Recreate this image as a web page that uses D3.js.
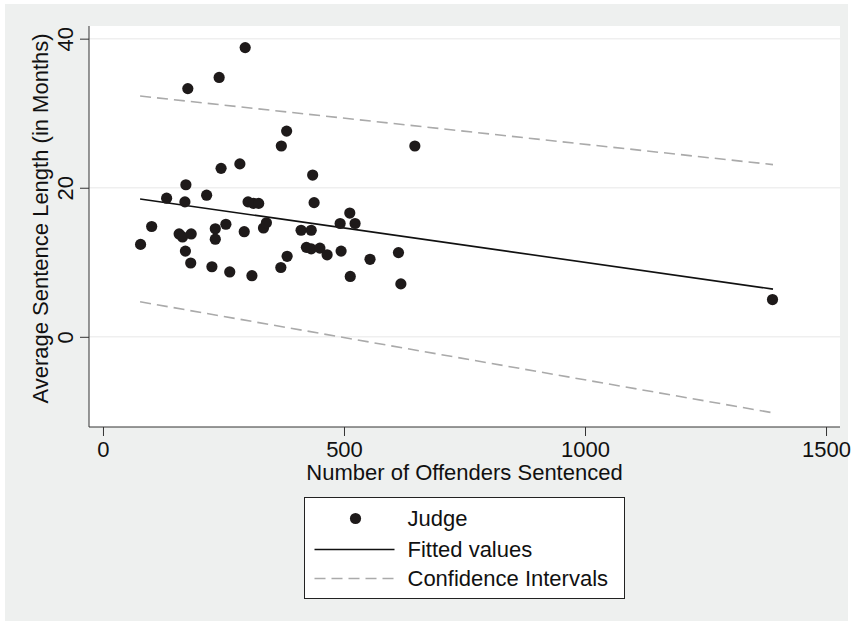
<!DOCTYPE html>
<html lang="en">
<head>
  <meta charset="UTF-8">
  <title>Average Sentence Length by Judge</title>
  <script src="https://d3js.org/d3.v7.min.js"></script>
  <style>
    body {
      margin: 0;
      background-color: #ffffff;
      font-family: "Liberation Sans", Arial, sans-serif;
    }
    .axis path, .axis line {
      stroke: #333;
      stroke-width: 1;
    }
    .axis text {
      font-family: "Liberation Sans", Arial, sans-serif;
      font-size: 22px;
      fill: #111;
    }
  </style>
</head>
<body>
  <div id="chart"></div>

  <script>
    // Number of offenders sentenced per judge (x) and average sentence length in months (y)
    const offenders = [
      78, 101, 132, 172, 170, 158, 165, 183, 171, 182,
      215, 245, 284, 233, 233, 255, 226, 263, 293, 309,
      301, 312, 323, 333, 339, 370, 381, 435, 438, 411,
      432, 422, 432, 450, 465, 382, 369, 492, 512, 523,
      494, 513, 554, 613, 618, 647, 295, 241, 176, 1389
    ];
    const sentenceMonths = [
      12.4, 14.8, 18.6, 20.4, 18.1, 13.8, 13.4, 13.8, 11.5, 9.9,
      19.0, 22.6, 23.2, 14.5, 13.1, 15.1, 9.4, 8.7, 14.1, 8.2,
      18.1, 17.9, 17.9, 14.6, 15.3, 25.6, 27.6, 21.7, 18.0, 14.3,
      14.3, 12.0, 11.8, 11.9, 11.0, 10.8, 9.3, 15.2, 16.6, 15.2,
      11.5, 8.1, 10.4, 11.3, 7.1, 25.6, 38.8, 34.8, 33.3, 5.0
    ];

    // Fitted line and confidence interval end points
    const fitX = [77, 1390];
    const fitted = [18.5, 6.4];
    const ciUpper = [32.3, 23.1];
    const ciLower = [4.7, -10.2];

    const xTicks = [0, 500, 1000, 1500];
    const yTicks = [0, 20, 40];

    const legendLabels = ['Judge', 'Fitted values', 'Confidence Intervals'];

    const W = 853, H = 625;
    const plot = { left: 89, right: 840, top: 26, bottom: 427 };

    const svg = d3.select('#chart')
      .append('svg')
      .attr('width', W)
      .attr('height', H);

    // grey graph region
    svg.append('rect')
      .attr('x', 5).attr('y', 4)
      .attr('width', 843).attr('height', 617)
      .attr('fill', '#eef0ef');

    // white plot region
    svg.append('rect')
      .attr('x', plot.left).attr('y', plot.top)
      .attr('width', plot.right - plot.left)
      .attr('height', plot.bottom - plot.top)
      .attr('fill', '#ffffff');

    const xScale = d3.scaleLinear()
      .domain([-29, 1529])
      .range([plot.left, plot.right]);

    const yScale = d3.scaleLinear()
      .domain([-12.1, 41.7])
      .range([plot.bottom, plot.top]);

    // horizontal grid lines
    svg.append('g')
      .selectAll('line')
      .data(yTicks)
      .join('line')
      .attr('x1', plot.left)
      .attr('x2', plot.right)
      .attr('y1', d => yScale(d))
      .attr('y2', d => yScale(d))
      .attr('stroke', '#efefef')
      .attr('stroke-width', 1.5);

    // axes
    const xAxis = d3.axisBottom(xScale)
      .tickValues(xTicks)
      .tickSize(9)
      .tickPadding(5)
      .tickSizeOuter(0)
      .tickFormat(d3.format('d'));

    const gx = svg.append('g')
      .attr('class', 'axis')
      .attr('transform', `translate(0, ${plot.bottom})`)
      .call(xAxis);
    gx.select('.domain').attr('d', `M${plot.left},0H${plot.right}`);

    const yAxis = d3.axisLeft(yScale)
      .tickValues(yTicks)
      .tickSize(9)
      .tickSizeOuter(0)
      .tickFormat(d3.format('d'));

    const gy = svg.append('g')
      .attr('class', 'axis')
      .attr('transform', `translate(${plot.left}, 0)`)
      .call(yAxis);
    gy.select('.domain').attr('d', `M0,${plot.top}V${plot.bottom}`);
    gy.selectAll('.tick text')
      .attr('x', 0)
      .attr('dy', 0)
      .attr('text-anchor', 'middle')
      .attr('transform', 'translate(-16, 0) rotate(-90)');

    // axis titles
    svg.append('text')
      .attr('x', (xScale(0) + xScale(1500)) / 2)
      .attr('y', 480)
      .attr('text-anchor', 'middle')
      .style('font-size', '22px')
      .attr('fill', '#111')
      .text('Number of Offenders Sentenced');

    svg.append('text')
      .attr('text-anchor', 'middle')
      .attr('transform', `translate(48, ${(plot.top + plot.bottom) / 2 - 8}) rotate(-90)`)
      .style('font-size', '22px')
      .attr('fill', '#111')
      .text('Average Sentence Length (in Months)');

    // confidence intervals
    const line = d3.line()
      .x(d => xScale(d[0]))
      .y(d => yScale(d[1]));

    [ciUpper, ciLower].forEach(ci => {
      svg.append('path')
        .datum(fitX.map((x, i) => [x, ci[i]]))
        .attr('d', line)
        .attr('fill', 'none')
        .attr('stroke', '#aaaaaa')
        .attr('stroke-width', 1.6)
        .attr('stroke-dasharray', '11,6');
    });

    // fitted values
    svg.append('path')
      .datum(fitX.map((x, i) => [x, fitted[i]]))
      .attr('d', line)
      .attr('fill', 'none')
      .attr('stroke', '#111')
      .attr('stroke-width', 1.6);

    // judges
    svg.append('g')
      .selectAll('circle')
      .data(offenders.map((x, i) => [x, sentenceMonths[i]]))
      .join('circle')
      .attr('cx', d => xScale(d[0]))
      .attr('cy', d => yScale(d[1]))
      .attr('r', 5.6)
      .attr('fill', '#1e1a1a');

    // legend
    const legend = svg.append('g')
      .attr('transform', 'translate(304.5, 497.5)');

    legend.append('rect')
      .attr('width', 320)
      .attr('height', 101)
      .attr('fill', '#ffffff')
      .attr('stroke', '#222')
      .attr('stroke-width', 1);

    const rowY = [21, 52, 81];

    legend.append('circle')
      .attr('cx', 51).attr('cy', rowY[0])
      .attr('r', 5.6)
      .attr('fill', '#1e1a1a');

    legend.append('line')
      .attr('x1', 10).attr('x2', 90)
      .attr('y1', rowY[1]).attr('y2', rowY[1])
      .attr('stroke', '#111')
      .attr('stroke-width', 1.6);

    legend.append('line')
      .attr('x1', 10).attr('x2', 90)
      .attr('y1', rowY[2]).attr('y2', rowY[2])
      .attr('stroke', '#aaaaaa')
      .attr('stroke-width', 1.6)
      .attr('stroke-dasharray', '11,6');

    legend.selectAll('text.label')
      .data(legendLabels)
      .join('text')
      .attr('class', 'label')
      .attr('x', 103)
      .attr('y', (d, i) => rowY[i])
      .attr('dy', '0.36em')
      .style('font-size', '22px')
      .attr('fill', '#111')
      .text(d => d);
  </script>
</body>
</html>
